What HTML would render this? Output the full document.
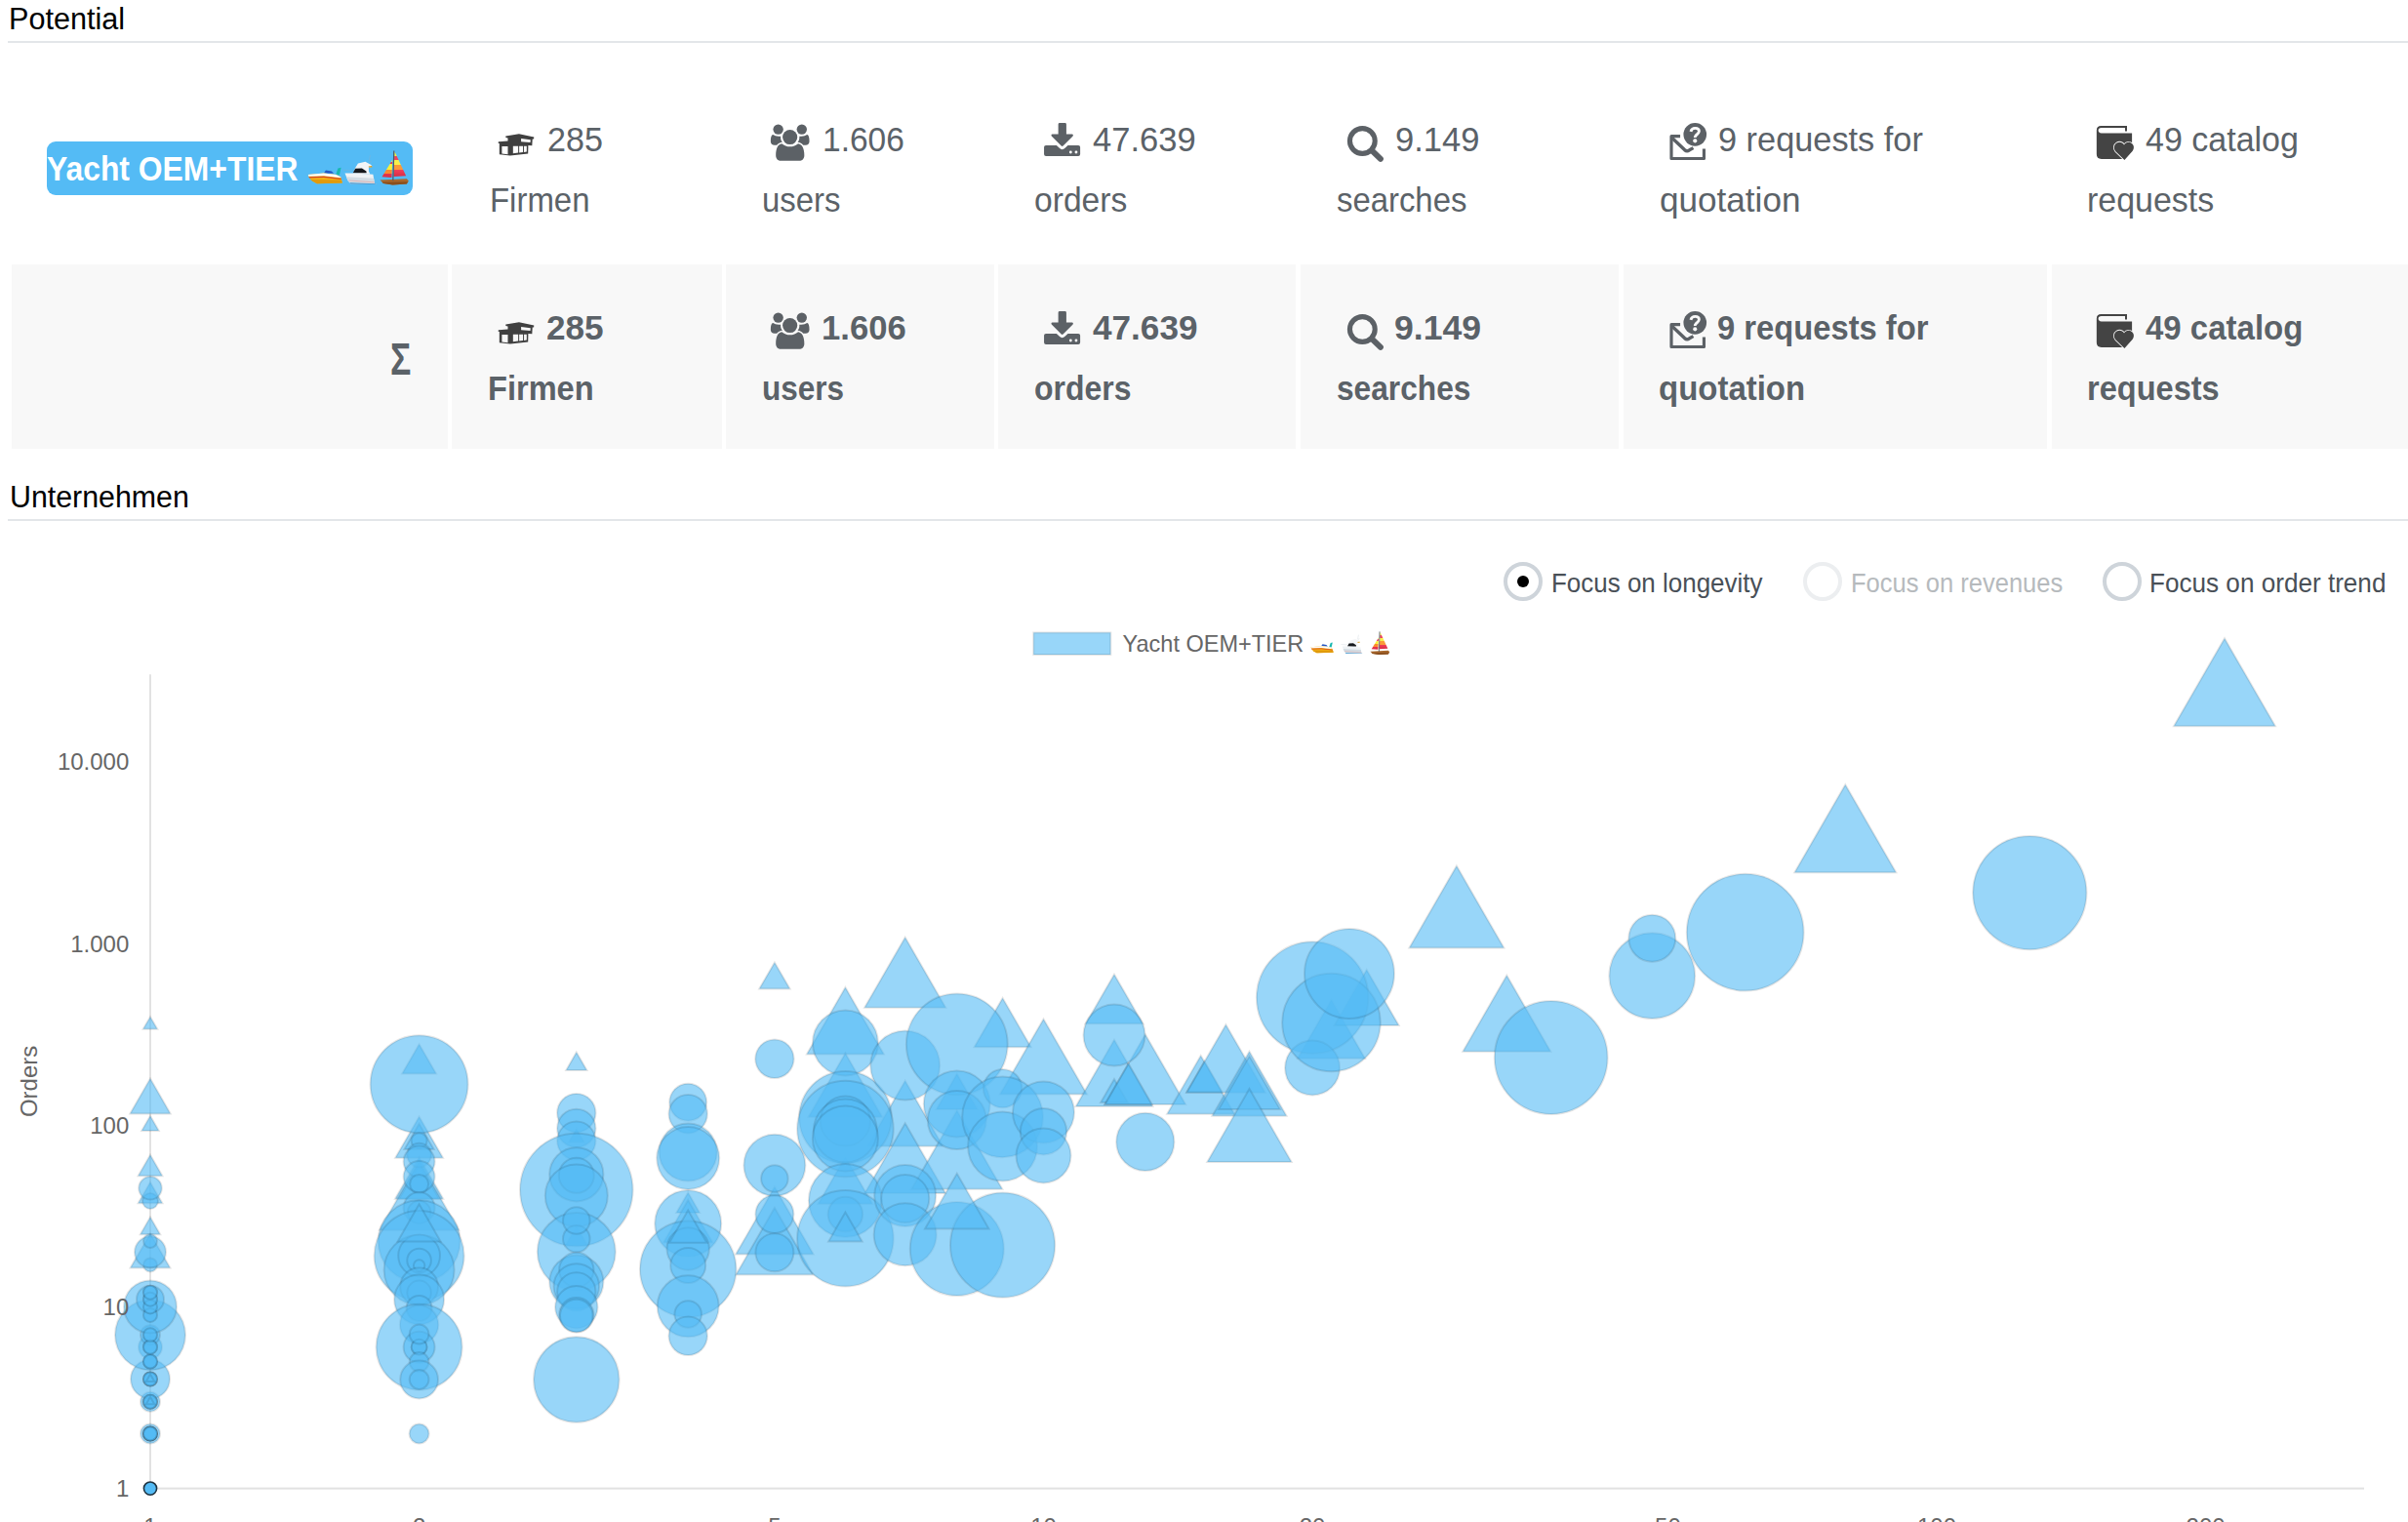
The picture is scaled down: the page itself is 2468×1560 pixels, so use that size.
<!DOCTYPE html>
<html lang="de"><head><meta charset="utf-8"><title>Potential</title>
<style>
html,body{margin:0;padding:0;background:#fff}
body{position:relative;width:2468px;height:1560px;overflow:hidden;font-family:"Liberation Sans",Arial,sans-serif}
.t{position:absolute;white-space:nowrap;line-height:1;transform-origin:0 0;display:block}
.hr{position:absolute;left:8px;right:0;height:2px;background:#e3e6e9}
.gc{position:absolute;top:271px;height:189px;background:#f8f8f8}
.badge{position:absolute;left:48px;top:145px;width:375px;height:55px;border-radius:9px;background:#54bbf5}
.radio{position:absolute;width:32px;height:32px;border:4px solid #ced4da;border-radius:50%;background:#fff}
.radio i{position:absolute;left:10px;top:10px;width:12px;height:12px;border-radius:50%;background:#000}
.ic{position:absolute;overflow:visible}
.chart{position:absolute;left:0;top:0}
</style></head><body>
<svg class="chart" width="2468" height="1560" viewBox="0 0 2468 1560">
<rect x="153" y="691.3" width="2" height="834.3" fill="#e2e2e2"/>
<rect x="153" y="1524.6" width="2270" height="2" fill="#e2e2e2"/>
<g fill="#54bbf5" fill-opacity=".6" stroke="#000" stroke-opacity=".1" stroke-width="2">
<path d="M154.0 1264.3L174.4 1299.5L133.6 1299.5Z"/>
<path d="M154.0 1247.5L164.2 1265.2L143.8 1265.2Z"/>
<path d="M154.0 1211.7L166.4 1233.2L141.6 1233.2Z"/>
<path d="M154.0 1183.7L166.4 1205.2L141.6 1205.2Z"/>
<path d="M154.0 1143.8L162.8 1159.1L145.2 1159.1Z"/>
<path d="M154.0 1105.6L174.7 1141.5L133.3 1141.5Z"/>
<path d="M154.0 1042.2L161.3 1054.8L146.7 1054.8Z"/>
<path d="M429.6 1070.3L447.1 1100.6L412.1 1100.6Z"/>
<path d="M429.6 1144.5L454.0 1186.8L405.2 1186.8Z"/>
<path d="M429.6 1151.7L444.7 1178.0L414.4 1178.0Z"/>
<path d="M429.6 1186.2L454.2 1228.8L405.0 1228.8Z"/>
<path d="M429.6 1193.3L450.1 1228.8L409.1 1228.8Z"/>
<path d="M429.6 1190.3L470.3 1260.8L388.9 1260.8Z"/>
<path d="M590.8 1078.4L601.5 1096.9L580.2 1096.9Z"/>
<path d="M590.8 1157.0L598.6 1170.5L583.0 1170.5Z"/>
<path d="M590.8 1257.0L602.1 1276.5L579.5 1276.5Z"/>
<path d="M705.2 1222.2L717.1 1242.9L693.2 1242.9Z"/>
<path d="M705.2 1230.0L730.3 1273.5L680.1 1273.5Z"/>
<path d="M793.9 986.4L809.6 1013.5L778.2 1013.5Z"/>
<path d="M793.9 1216.6L833.7 1285.6L754.1 1285.6Z"/>
<path d="M793.9 1238.0L833.5 1306.5L754.3 1306.5Z"/>
<path d="M866.4 1012.1L905.9 1080.5L826.9 1080.5Z"/>
<path d="M866.4 1079.4L904.1 1144.7L828.7 1144.7Z"/>
<path d="M866.4 1185.8L894.1 1233.8L838.7 1233.8Z"/>
<path d="M927.7 960.8L969.3 1032.8L886.1 1032.8Z"/>
<path d="M927.7 1107.7L966.4 1174.8L889.0 1174.8Z"/>
<path d="M927.7 1151.2L969.1 1222.9L886.3 1222.9Z"/>
<path d="M980.8 1100.8L1001.7 1137.1L959.8 1137.1Z"/>
<path d="M980.8 1138.3L1027.3 1218.8L934.3 1218.8Z"/>
<path d="M1027.6 1022.9L1056.7 1073.3L998.5 1073.3Z"/>
<path d="M1069.5 1044.4L1114.0 1121.5L1025.0 1121.5Z"/>
<path d="M1142.0 998.7L1171.2 1049.2L1112.8 1049.2Z"/>
<path d="M1142.0 1065.8L1181.3 1133.9L1102.7 1133.9Z"/>
<path d="M1142.0 1106.0L1155.8 1130.0L1128.1 1130.0Z"/>
<path d="M1173.8 1060.2L1215.2 1131.9L1132.4 1131.9Z"/>
<path d="M1156.6 1090.3L1180.7 1132.0L1132.5 1132.0Z"/>
<path d="M1230.7 1082.1L1265.2 1141.8L1196.2 1141.8Z"/>
<path d="M1234.5 1088.1L1252.7 1119.6L1216.3 1119.6Z"/>
<path d="M1256.4 1050.2L1296.6 1119.8L1216.2 1119.8Z"/>
<path d="M1280.5 1077.8L1318.6 1143.8L1242.4 1143.8Z"/>
<path d="M1280.5 1082.4L1312.0 1137.0L1249.0 1137.0Z"/>
<path d="M1280.5 1116.1L1323.7 1191.0L1237.3 1191.0Z"/>
<path d="M1364.5 1025.0L1399.0 1084.7L1330.0 1084.7Z"/>
<path d="M1400.7 993.9L1433.7 1051.0L1367.7 1051.0Z"/>
<path d="M1492.9 887.6L1541.4 971.6L1444.4 971.6Z"/>
<path d="M1544.3 999.7L1589.3 1077.7L1499.3 1077.7Z"/>
<path d="M1891.3 804.3L1943.3 894.3L1839.3 894.3Z"/>
<path d="M2280.0 654.3L2332.0 744.3L2228.0 744.3Z"/>
<circle cx="154.0" cy="1469.5" r="10.0"/>
<circle cx="154.0" cy="1469.5" r="7.0"/>
<circle cx="154.0" cy="1469.5" r="7.0"/>
<circle cx="154.0" cy="1469.5" r="7.0"/>
<circle cx="154.0" cy="1436.8" r="10.0"/>
<circle cx="154.0" cy="1436.8" r="7.0"/>
<circle cx="154.0" cy="1436.8" r="7.0"/>
<circle cx="154.0" cy="1413.5" r="20.0"/>
<circle cx="154.0" cy="1413.5" r="7.0"/>
<circle cx="154.0" cy="1413.5" r="7.0"/>
<circle cx="154.0" cy="1395.5" r="7.0"/>
<circle cx="154.0" cy="1395.5" r="7.0"/>
<circle cx="154.0" cy="1380.7" r="12.0"/>
<circle cx="154.0" cy="1380.7" r="7.0"/>
<circle cx="154.0" cy="1368.2" r="36.0"/>
<circle cx="154.0" cy="1368.2" r="10.0"/>
<circle cx="154.0" cy="1368.2" r="7.0"/>
<circle cx="154.0" cy="1347.9" r="7.0"/>
<circle cx="154.0" cy="1339.4" r="27.0"/>
<circle cx="154.0" cy="1339.4" r="7.0"/>
<circle cx="154.0" cy="1331.7" r="14.0"/>
<circle cx="154.0" cy="1331.7" r="7.0"/>
<circle cx="154.0" cy="1324.7" r="7.0"/>
<circle cx="154.0" cy="1296.5" r="7.0"/>
<circle cx="154.0" cy="1283.3" r="16.0"/>
<circle cx="154.0" cy="1272.0" r="7.0"/>
<circle cx="154.0" cy="1231.0" r="8.0"/>
<circle cx="154.0" cy="1217.8" r="11.8"/>
<circle cx="154.0" cy="1469.5" r="7.0"/>
<circle cx="154.0" cy="1469.5" r="7.0"/>
<circle cx="154.0" cy="1469.5" r="7.0"/>
<circle cx="154.0" cy="1436.8" r="7.0"/>
<circle cx="154.0" cy="1436.8" r="7.0"/>
<circle cx="154.0" cy="1413.5" r="7.0"/>
<circle cx="154.0" cy="1413.5" r="7.0"/>
<circle cx="154.0" cy="1395.5" r="7.0"/>
<circle cx="154.0" cy="1395.5" r="7.0"/>
<circle cx="154.0" cy="1380.7" r="7.0"/>
<circle cx="154.0" cy="1380.7" r="7.0"/>
<circle cx="154.0" cy="1368.2" r="7.0"/>
<circle cx="154.0" cy="1347.9" r="7.0"/>
<circle cx="154.0" cy="1339.4" r="7.0"/>
<circle cx="154.0" cy="1331.7" r="7.0"/>
<circle cx="154.0" cy="1324.7" r="7.0"/>
<circle cx="429.6" cy="1111.2" r="50.0"/>
<circle cx="429.6" cy="1169.2" r="8.0"/>
<circle cx="429.6" cy="1184.0" r="12.3"/>
<circle cx="429.6" cy="1190.5" r="16.0"/>
<circle cx="429.6" cy="1206.0" r="16.0"/>
<circle cx="429.6" cy="1213.5" r="9.5"/>
<circle cx="429.6" cy="1238.0" r="16.0"/>
<circle cx="429.6" cy="1242.5" r="11.7"/>
<circle cx="429.6" cy="1272.3" r="42.0"/>
<circle cx="429.6" cy="1287.0" r="46.0"/>
<circle cx="429.6" cy="1301.8" r="36.0"/>
<circle cx="429.6" cy="1287.0" r="21.4"/>
<circle cx="429.6" cy="1292.0" r="12.3"/>
<circle cx="429.6" cy="1297.0" r="5.7"/>
<circle cx="429.6" cy="1319.0" r="19.4"/>
<circle cx="429.6" cy="1324.8" r="12.3"/>
<circle cx="429.6" cy="1332.0" r="25.5"/>
<circle cx="429.6" cy="1341.0" r="13.0"/>
<circle cx="429.6" cy="1357.7" r="19.7"/>
<circle cx="429.6" cy="1380.7" r="44.0"/>
<circle cx="429.6" cy="1380.7" r="16.0"/>
<circle cx="429.6" cy="1380.7" r="7.9"/>
<circle cx="429.6" cy="1380.7" r="7.9"/>
<circle cx="429.6" cy="1367.5" r="9.9"/>
<circle cx="429.6" cy="1396.0" r="9.9"/>
<circle cx="429.6" cy="1414.0" r="19.4"/>
<circle cx="429.6" cy="1414.0" r="9.9"/>
<circle cx="429.6" cy="1469.5" r="10.0"/>
<circle cx="590.8" cy="1140.7" r="19.7"/>
<circle cx="590.8" cy="1156.4" r="19.7"/>
<circle cx="590.8" cy="1169.3" r="19.7"/>
<circle cx="590.8" cy="1219.5" r="57.8"/>
<circle cx="590.8" cy="1203.8" r="27.6"/>
<circle cx="590.8" cy="1204.7" r="18.0"/>
<circle cx="590.8" cy="1225.4" r="32.0"/>
<circle cx="590.8" cy="1283.0" r="40.0"/>
<circle cx="590.8" cy="1269.8" r="13.8"/>
<circle cx="590.8" cy="1251.0" r="13.8"/>
<circle cx="590.8" cy="1314.0" r="27.6"/>
<circle cx="590.8" cy="1301.5" r="17.7"/>
<circle cx="590.8" cy="1318.5" r="23.3"/>
<circle cx="590.8" cy="1324.0" r="19.7"/>
<circle cx="590.8" cy="1339.7" r="21.7"/>
<circle cx="590.8" cy="1347.6" r="17.7"/>
<circle cx="590.8" cy="1348.6" r="16.8"/>
<circle cx="590.8" cy="1414.0" r="43.8"/>
<circle cx="705.2" cy="1129.8" r="19.0"/>
<circle cx="705.2" cy="1141.7" r="19.7"/>
<circle cx="705.2" cy="1181.0" r="29.6"/>
<circle cx="705.2" cy="1187.0" r="32.0"/>
<circle cx="705.2" cy="1254.0" r="34.0"/>
<circle cx="705.2" cy="1300.8" r="49.3"/>
<circle cx="705.2" cy="1280.0" r="21.7"/>
<circle cx="705.2" cy="1297.0" r="18.0"/>
<circle cx="705.2" cy="1338.8" r="31.5"/>
<circle cx="705.2" cy="1347.0" r="13.8"/>
<circle cx="705.2" cy="1369.3" r="19.7"/>
<circle cx="793.9" cy="1085.3" r="19.7"/>
<circle cx="793.9" cy="1194.3" r="31.5"/>
<circle cx="793.9" cy="1208.0" r="13.8"/>
<circle cx="793.9" cy="1244.5" r="19.5"/>
<circle cx="793.9" cy="1283.8" r="19.5"/>
<circle cx="866.4" cy="1068.9" r="33.5"/>
<circle cx="866.4" cy="1145.2" r="47.3"/>
<circle cx="866.4" cy="1157.0" r="49.3"/>
<circle cx="866.4" cy="1149.0" r="25.6"/>
<circle cx="866.4" cy="1159.0" r="32.5"/>
<circle cx="866.4" cy="1166.9" r="33.5"/>
<circle cx="866.4" cy="1230.5" r="37.5"/>
<circle cx="866.4" cy="1244.5" r="17.7"/>
<circle cx="866.4" cy="1269.3" r="49.3"/>
<circle cx="927.7" cy="1092.0" r="35.5"/>
<circle cx="927.7" cy="1225.5" r="31.5"/>
<circle cx="927.7" cy="1228.5" r="24.6"/>
<circle cx="927.7" cy="1265.3" r="32.0"/>
<circle cx="980.8" cy="1070.3" r="51.9"/>
<circle cx="980.8" cy="1131.4" r="34.0"/>
<circle cx="980.8" cy="1148.0" r="30.0"/>
<circle cx="980.8" cy="1280.0" r="48.0"/>
<circle cx="1027.6" cy="1115.6" r="19.7"/>
<circle cx="1027.6" cy="1144.8" r="41.4"/>
<circle cx="1027.6" cy="1175.0" r="35.5"/>
<circle cx="1027.6" cy="1276.2" r="53.6"/>
<circle cx="1069.5" cy="1140.0" r="31.5"/>
<circle cx="1069.5" cy="1159.7" r="23.7"/>
<circle cx="1069.5" cy="1184.5" r="28.0"/>
<circle cx="1142.0" cy="1061.0" r="31.5"/>
<circle cx="1173.8" cy="1170.4" r="29.6"/>
<circle cx="1345.1" cy="1022.5" r="57.2"/>
<circle cx="1345.1" cy="1094.5" r="28.0"/>
<circle cx="1364.5" cy="1048.0" r="50.3"/>
<circle cx="1383.0" cy="997.9" r="46.0"/>
<circle cx="1589.7" cy="1084.0" r="57.9"/>
<circle cx="1693.3" cy="1000.2" r="43.9"/>
<circle cx="1693.3" cy="961.7" r="24.0"/>
<circle cx="1788.7" cy="955.7" r="59.9"/>
<circle cx="2080.3" cy="915.1" r="58.2"/>
<path d="M154.0 1431.8L158.3 1439.3L149.7 1439.3Z"/>
<path d="M154.0 1408.5L158.3 1416.0L149.7 1416.0Z"/>
<path d="M429.6 1234.3L451.6 1272.4L407.6 1272.4Z"/>
<path d="M705.2 1240.4L724.4 1273.7L686.0 1273.7Z"/>
<path d="M866.4 1242.6L883.7 1272.6L849.1 1272.6Z"/>
<path d="M980.8 1202.8L1013.5 1259.5L948.0 1259.5Z"/>
</g>
<circle cx="154" cy="1525.6" r="6.6" fill="#54bbf5" stroke="#1f3442" stroke-width="1.6"/>
<rect x="1059.3" y="648.4" width="79" height="22.6" fill="#54bbf5" fill-opacity=".6" stroke="#000" stroke-opacity=".1" stroke-width="2"/>
<g font-family="Liberation Sans, Arial, sans-serif" font-size="24" fill="#666">
<text x="1150.6" y="667.9" textLength="185.6" lengthAdjust="spacingAndGlyphs">Yacht OEM+TIER</text>
<text x="132.3" y="789.4" text-anchor="end">10.000</text>
<text x="132.3" y="975.6" text-anchor="end">1.000</text>
<text x="132.3" y="1161.8" text-anchor="end">100</text>
<text x="132.3" y="1348.0" text-anchor="end">10</text>
<text x="132.3" y="1534.2" text-anchor="end">1</text>
<text x="154.0" y="1573.2" text-anchor="middle">1</text>
<text x="429.6" y="1573.2" text-anchor="middle">2</text>
<text x="793.9" y="1573.2" text-anchor="middle">5</text>
<text x="1069.5" y="1573.2" text-anchor="middle">10</text>
<text x="1345.1" y="1573.2" text-anchor="middle">20</text>
<text x="1709.4" y="1573.2" text-anchor="middle">50</text>
<text x="1985.0" y="1573.2" text-anchor="middle">100</text>
<text x="2260.6" y="1573.2" text-anchor="middle">200</text>
<text transform="translate(38 1108.4) rotate(-90)" text-anchor="middle">Orders</text>
</g></svg>
<span class="t" style="left:9.30px;top:4.46px;font-size:31px;color:#000;transform:scaleX(0.9868);">Potential</span>
<div class="hr" style="top:41.6px"></div>
<span class="t" style="left:9.60px;top:493.56px;font-size:31px;color:#000;transform:scaleX(0.9789);">Unternehmen</span>
<div class="hr" style="top:531.8px"></div>
<div class="gc" style="left:12px;width:447.0px"></div>
<div class="gc" style="left:463px;width:276.7px"></div>
<div class="gc" style="left:744.2px;width:274.8px"></div>
<div class="gc" style="left:1023.3px;width:305.2px"></div>
<div class="gc" style="left:1333.2px;width:326.2px"></div>
<div class="gc" style="left:1664.3px;width:433.4px"></div>
<div class="gc" style="left:2102.6px;width:365.4px"></div>
<div class="badge"></div>
<span class="t" style="left:48.20px;top:156.34px;font-size:34.8px;font-weight:700;color:#fff;transform:scaleX(0.9152);">Yacht OEM+TIER</span>
<span class="t" style="left:561.00px;top:124.90px;font-size:35.2px;color:#5b6268;transform:scaleX(0.9697);">285</span>
<span class="t" style="left:501.50px;top:187.10px;font-size:35.2px;color:#5b6268;transform:scaleX(0.9363);">Firmen</span>
<span class="t" style="left:843.00px;top:124.90px;font-size:35.2px;color:#5b6268;transform:scaleX(0.9526);">1.606</span>
<span class="t" style="left:781.40px;top:187.10px;font-size:35.2px;color:#5b6268;transform:scaleX(0.9342);">users</span>
<span class="t" style="left:1120.00px;top:124.90px;font-size:35.2px;color:#5b6268;transform:scaleX(0.9822);">47.639</span>
<span class="t" style="left:1059.70px;top:187.10px;font-size:35.2px;color:#5b6268;transform:scaleX(0.9550);">orders</span>
<span class="t" style="left:1430.00px;top:124.90px;font-size:35.2px;color:#5b6268;transform:scaleX(0.9810);">9.149</span>
<span class="t" style="left:1370.00px;top:187.10px;font-size:35.2px;color:#5b6268;transform:scaleX(0.9341);">searches</span>
<span class="t" style="left:1760.70px;top:124.90px;font-size:35.2px;color:#5b6268;transform:scaleX(0.9752);">9 requests for</span>
<span class="t" style="left:1700.50px;top:187.10px;font-size:35.2px;color:#5b6268;transform:scaleX(0.9976);">quotation</span>
<span class="t" style="left:2199.00px;top:124.90px;font-size:35.2px;color:#5b6268;transform:scaleX(0.9665);">49 catalog</span>
<span class="t" style="left:2139.40px;top:187.10px;font-size:35.2px;color:#5b6268;transform:scaleX(0.9645);">requests</span>
<span class="t" style="left:560.00px;top:318.20px;font-size:35.2px;font-weight:700;color:#5b6268;transform:scaleX(0.9986);">285</span>
<span class="t" style="left:499.70px;top:379.70px;font-size:35.2px;font-weight:700;color:#5b6268;transform:scaleX(0.9260);">Firmen</span>
<span class="t" style="left:842.00px;top:318.20px;font-size:35.2px;font-weight:700;color:#5b6268;transform:scaleX(0.9844);">1.606</span>
<span class="t" style="left:780.80px;top:379.70px;font-size:35.2px;font-weight:700;color:#5b6268;transform:scaleX(0.8959);">users</span>
<span class="t" style="left:1120.00px;top:318.20px;font-size:35.2px;font-weight:700;color:#5b6268;transform:scaleX(0.9990);">47.639</span>
<span class="t" style="left:1059.90px;top:379.70px;font-size:35.2px;font-weight:700;color:#5b6268;transform:scaleX(0.9080);">orders</span>
<span class="t" style="left:1429.30px;top:318.20px;font-size:35.2px;font-weight:700;color:#5b6268;transform:scaleX(1.0116);">9.149</span>
<span class="t" style="left:1369.80px;top:379.70px;font-size:35.2px;font-weight:700;color:#5b6268;transform:scaleX(0.9004);">searches</span>
<span class="t" style="left:1760.40px;top:318.20px;font-size:35.2px;font-weight:700;color:#5b6268;transform:scaleX(0.9302);">9 requests for</span>
<span class="t" style="left:1700.40px;top:379.70px;font-size:35.2px;font-weight:700;color:#5b6268;transform:scaleX(0.9368);">quotation</span>
<span class="t" style="left:2198.60px;top:318.20px;font-size:35.2px;font-weight:700;color:#5b6268;transform:scaleX(0.9377);">49 catalog</span>
<span class="t" style="left:2138.70px;top:379.70px;font-size:35.2px;font-weight:700;color:#5b6268;transform:scaleX(0.9252);">requests</span>
<span class="t" style="left:399.70px;top:344.96px;font-size:46px;font-weight:700;color:#5b6268;transform:scaleX(0.7717);">Σ</span>
<div class="radio" style="left:1541px;top:576px;border-color:#ced4da"><i></i></div>
<div class="radio" style="left:1848.3px;top:576px;border-color:#eceef0"></div>
<div class="radio" style="left:2155px;top:576px;border-color:#ced4da"></div>
<span class="t" style="left:1590.00px;top:583.67px;font-size:27.8px;color:#495057;transform:scaleX(0.9342);">Focus on longevity</span>
<span class="t" style="left:1896.70px;top:583.67px;font-size:27.8px;color:#b6babd;transform:scaleX(0.9191);">Focus on revenues</span>
<span class="t" style="left:2202.70px;top:583.67px;font-size:27.8px;color:#495057;transform:scaleX(0.9395);">Focus on order trend</span>
<svg class="ic" style="left:500px;top:115px" width="60" height="60" viewBox="0 0 1522 1522"><path fill="#404040" d="M465 620L810 565L1200 650L1195 700L1160 695L1150 870L1050 865L1045 1075L580 1130L300 1100L300 810L270 805L275 770L520 750L520 670L465 660Z"/>
<path fill="#fff" d="M365 885L520 885L520 1095L365 1080ZM655 880L790 880L790 1055L655 1070ZM815 880L915 880L915 1040L815 1055ZM940 880L1010 880L1010 1030L940 1040ZM865 685L1110 715L1105 785L865 765Z"/></svg>
<svg class="ic" style="left:780px;top:115px" width="60" height="60" viewBox="0 0 1522 1522"><circle cx="447" cy="447" r="132" fill="#5c6166"/><circle cx="1060" cy="447" r="132" fill="#5c6166"/>
<path fill="#5c6166" d="M250 760C250 650 270 590 310 585C350 610 420 640 510 625C505 690 520 740 555 780C490 785 450 810 410 855L350 855C290 855 250 820 250 760Z"/><path fill="#5c6166" transform="translate(1507 0) scale(-1 1)" d="M250 760C250 650 270 590 310 585C350 610 420 640 510 625C505 690 520 740 555 780C490 785 450 810 410 855L350 855C290 855 250 820 250 760Z"/>
<circle cx="752" cy="648" r="192" fill="#5c6166"/>
<path fill="#5c6166" d="M385 1120C385 950 430 830 540 815C600 860 670 895 752 895C835 895 905 860 965 815C1075 830 1125 950 1125 1120C1125 1210 1070 1262 990 1262L520 1262C440 1262 385 1210 385 1120Z"/></svg>
<svg class="ic" style="left:1060px;top:115px" width="60" height="60" viewBox="0 0 1522 1522"><path fill="#5c6166" d="M660 280L800 280Q835 280 835 315L835 570L985 570Q1030 575 1005 620L750 878Q727 900 704 878L450 620Q425 575 470 570L625 570L625 315Q625 280 660 280Z"/>
<path fill="#5c6166" d="M305 860L580 860L655 935Q727 1000 800 935L875 860L1145 860Q1195 860 1195 910L1195 1090Q1195 1140 1145 1140L305 1140Q255 1140 255 1090L255 910Q255 860 305 860Z"/>
<circle cx="947" cy="1040" r="36" fill="#fff"/><circle cx="1090" cy="1040" r="36" fill="#fff"/></svg>
<svg class="ic" style="left:1370px;top:115px" width="60" height="60" viewBox="0 0 1522 1522"><circle cx="668" cy="748" r="327" fill="none" stroke="#5c6166" stroke-width="130"/>
<path d="M930 1010L1140 1215" stroke="#5c6166" stroke-width="150" stroke-linecap="round"/></svg>
<svg class="ic" style="left:1700px;top:115px" width="60" height="60" viewBox="0 0 1522 1522"><path d="M560 625L330 625L330 1205L1178 1205L1178 950" fill="none" stroke="#5c6166" stroke-width="80" stroke-linejoin="round"/>
<path d="M345 665L680 985Q735 1030 800 985L900 928" fill="none" stroke="#5c6166" stroke-width="85" stroke-linejoin="round"/>
<circle cx="945" cy="580" r="300" fill="#5c6166"/>
<path d="M835 505C850 440 900 415 950 415C1020 415 1055 455 1050 500C1045 545 1000 570 970 600C950 620 945 635 945 660" fill="none" stroke="#fff" stroke-width="72"/>
<circle cx="945" cy="745" r="52" fill="#fff"/></svg>
<svg class="ic" style="left:2138px;top:115px" width="60" height="60" viewBox="0 0 1522 1522"><path fill="#444" d="M390 355L1065 355L1065 495L1015 495L1015 405L400 405Q320 410 320 470Q320 540 400 545L1195 545L1195 1215L400 1215Q275 1215 275 1090L275 470Q275 355 390 355Z"/>
<path fill="#fff" d="M985 1270L1250 975L1250 1270Z"/>
<path fill="#444" stroke="#fff" stroke-width="44" paint-order="stroke" d="M990 850C950 780 870 760 800 800C720 850 710 950 770 1020L1000 1245L1210 1010C1270 930 1240 830 1160 795C1090 765 1030 790 990 850Z"/></svg>
<svg class="ic" style="left:500px;top:308px" width="60" height="60" viewBox="0 0 1522 1522"><path fill="#404040" d="M465 620L810 565L1200 650L1195 700L1160 695L1150 870L1050 865L1045 1075L580 1130L300 1100L300 810L270 805L275 770L520 750L520 670L465 660Z"/>
<path fill="#f8f8f8" d="M365 885L520 885L520 1095L365 1080ZM655 880L790 880L790 1055L655 1070ZM815 880L915 880L915 1040L815 1055ZM940 880L1010 880L1010 1030L940 1040ZM865 685L1110 715L1105 785L865 765Z"/></svg>
<svg class="ic" style="left:780px;top:308px" width="60" height="60" viewBox="0 0 1522 1522"><circle cx="447" cy="447" r="132" fill="#5c6166"/><circle cx="1060" cy="447" r="132" fill="#5c6166"/>
<path fill="#5c6166" d="M250 760C250 650 270 590 310 585C350 610 420 640 510 625C505 690 520 740 555 780C490 785 450 810 410 855L350 855C290 855 250 820 250 760Z"/><path fill="#5c6166" transform="translate(1507 0) scale(-1 1)" d="M250 760C250 650 270 590 310 585C350 610 420 640 510 625C505 690 520 740 555 780C490 785 450 810 410 855L350 855C290 855 250 820 250 760Z"/>
<circle cx="752" cy="648" r="192" fill="#5c6166"/>
<path fill="#5c6166" d="M385 1120C385 950 430 830 540 815C600 860 670 895 752 895C835 895 905 860 965 815C1075 830 1125 950 1125 1120C1125 1210 1070 1262 990 1262L520 1262C440 1262 385 1210 385 1120Z"/></svg>
<svg class="ic" style="left:1060px;top:308px" width="60" height="60" viewBox="0 0 1522 1522"><path fill="#5c6166" d="M660 280L800 280Q835 280 835 315L835 570L985 570Q1030 575 1005 620L750 878Q727 900 704 878L450 620Q425 575 470 570L625 570L625 315Q625 280 660 280Z"/>
<path fill="#5c6166" d="M305 860L580 860L655 935Q727 1000 800 935L875 860L1145 860Q1195 860 1195 910L1195 1090Q1195 1140 1145 1140L305 1140Q255 1140 255 1090L255 910Q255 860 305 860Z"/>
<circle cx="947" cy="1040" r="36" fill="#f8f8f8"/><circle cx="1090" cy="1040" r="36" fill="#f8f8f8"/></svg>
<svg class="ic" style="left:1370px;top:308px" width="60" height="60" viewBox="0 0 1522 1522"><circle cx="668" cy="748" r="327" fill="none" stroke="#5c6166" stroke-width="130"/>
<path d="M930 1010L1140 1215" stroke="#5c6166" stroke-width="150" stroke-linecap="round"/></svg>
<svg class="ic" style="left:1700px;top:308px" width="60" height="60" viewBox="0 0 1522 1522"><path d="M560 625L330 625L330 1205L1178 1205L1178 950" fill="none" stroke="#5c6166" stroke-width="80" stroke-linejoin="round"/>
<path d="M345 665L680 985Q735 1030 800 985L900 928" fill="none" stroke="#5c6166" stroke-width="85" stroke-linejoin="round"/>
<circle cx="945" cy="580" r="300" fill="#5c6166"/>
<path d="M835 505C850 440 900 415 950 415C1020 415 1055 455 1050 500C1045 545 1000 570 970 600C950 620 945 635 945 660" fill="none" stroke="#f8f8f8" stroke-width="72"/>
<circle cx="945" cy="745" r="52" fill="#f8f8f8"/></svg>
<svg class="ic" style="left:2138px;top:308px" width="60" height="60" viewBox="0 0 1522 1522"><path fill="#444" d="M390 355L1065 355L1065 495L1015 495L1015 405L400 405Q320 410 320 470Q320 540 400 545L1195 545L1195 1215L400 1215Q275 1215 275 1090L275 470Q275 355 390 355Z"/>
<path fill="#f8f8f8" d="M985 1270L1250 975L1250 1270Z"/>
<path fill="#444" stroke="#f8f8f8" stroke-width="44" paint-order="stroke" d="M990 850C950 780 870 760 800 800C720 850 710 950 770 1020L1000 1245L1210 1010C1270 930 1240 830 1160 795C1090 765 1030 790 990 850Z"/></svg>
<svg class="ic" style="left:315.0px;top:171.4px" width="36.4" height="17.9" viewBox="200 530 730 360"><path fill="#19b8b0" d="M790 685L830 560L895 545L860 700Z"/>
<path fill="#2457c5" d="M540 660L580 600L700 620L745 668Z"/>
<path fill="#f5b313" d="M215 690L540 660L790 690L890 740L920 860L400 875L300 820L230 740Z"/>
<path fill="#e09a0c" d="M262 790L905 800L920 860L400 875L300 820Z"/>
<path fill="#fff" d="M215 690L540 660L790 690L890 740L890 755L540 715L225 725Z"/>
<path fill="#d6482a" d="M228 738L540 725L892 765L898 790L540 750L240 760Z"/></svg>
<svg class="ic" style="left:351.3px;top:157.5px" width="35.4" height="31.9" viewBox="930 250 710 640"><path stroke="#9ab" stroke-width="6" d="M1500 270L1470 420M1520 380L1500 430M945 575L1150 590"/>
<path fill="#f3f5f7" d="M1145 640L1200 520L1250 440L1400 405L1520 470L1540 510L1470 520L1470 600L1500 665Z"/>
<path fill="#d79a1c" d="M1465 500L1540 490L1535 520L1470 522Z"/>
<path fill="#15181c" d="M1145 635L1195 545L1330 540L1420 600L1425 635Z"/>
<path fill="#eef2f5" d="M980 640L1150 640L1560 665L1590 850L1630 872L1100 862L1040 790Z"/>
<path fill="#d3dce3" d="M1010 715L1575 745L1590 850L1630 872L1100 862L1040 790Z"/>
<path stroke="#e8837f" stroke-width="9" fill="none" d="M1060 790L1590 830"/>
<path fill="#2f8fd0" d="M1075 835L1600 858L1630 872L1100 862Z"/></svg>
<svg class="ic" style="left:388.7px;top:153.7px" width="30.4" height="36.1" viewBox="1680 175 610 725"><defs><linearGradient id="g1a" x1="0" y1="200" x2="0" y2="715" gradientUnits="userSpaceOnUse">
<stop offset="0" stop-color="#f7ee3c"/><stop offset=".2" stop-color="#f7ee3c"/><stop offset=".2" stop-color="#f0455a"/><stop offset=".36" stop-color="#f0455a"/>
<stop offset=".36" stop-color="#f7f04a"/><stop offset=".54" stop-color="#f7f04a"/><stop offset=".54" stop-color="#fb9a3a"/><stop offset=".74" stop-color="#fb9a3a"/>
<stop offset=".74" stop-color="#f2405a"/><stop offset="1" stop-color="#d92c45"/></linearGradient>
<linearGradient id="g2a" x1="0" y1="370" x2="0" y2="735" gradientUnits="userSpaceOnUse">
<stop offset="0" stop-color="#f7ee3c"/><stop offset=".12" stop-color="#f7ee3c"/><stop offset=".12" stop-color="#e83a55"/><stop offset=".25" stop-color="#e83a55"/>
<stop offset=".25" stop-color="#f8ef3c"/><stop offset=".56" stop-color="#f8ef3c"/><stop offset=".56" stop-color="#fb8a2e"/><stop offset=".8" stop-color="#fb8a2e"/>
<stop offset=".8" stop-color="#e8354d"/><stop offset="1" stop-color="#d92c45"/></linearGradient></defs>
<path fill="url(#g2a)" d="M1945 370L1730 720L1930 735Z"/>
<path fill="url(#g1a)" d="M1990 200L2225 700L1970 715Z"/>
<path fill="#a8672c" d="M1690 790L2240 765L2280 810L2240 870L1950 890L1760 860Z"/>
<path fill="#8a4f1e" d="M1725 835L2262 825L2240 870L1950 890L1760 860Z"/>
<path stroke="#4d5862" stroke-width="24" d="M1977 185L1957 800"/></svg>
<svg class="ic" style="left:1343.2px;top:658.4px" width="24.0" height="11.8" viewBox="200 530 730 360"><path fill="#19b8b0" d="M790 685L830 560L895 545L860 700Z"/>
<path fill="#2457c5" d="M540 660L580 600L700 620L745 668Z"/>
<path fill="#f5b313" d="M215 690L540 660L790 690L890 740L920 860L400 875L300 820L230 740Z"/>
<path fill="#e09a0c" d="M262 790L905 800L920 860L400 875L300 820Z"/>
<path fill="#fff" d="M215 690L540 660L790 690L890 740L890 755L540 715L225 725Z"/>
<path fill="#d6482a" d="M228 738L540 725L892 765L898 790L540 750L240 760Z"/></svg>
<svg class="ic" style="left:1373.6px;top:649.8px" width="23.0" height="20.7" viewBox="930 250 710 640"><path stroke="#9ab" stroke-width="6" d="M1500 270L1470 420M1520 380L1500 430M945 575L1150 590"/>
<path fill="#f3f5f7" d="M1145 640L1200 520L1250 440L1400 405L1520 470L1540 510L1470 520L1470 600L1500 665Z"/>
<path fill="#d79a1c" d="M1465 500L1540 490L1535 520L1470 522Z"/>
<path fill="#15181c" d="M1145 635L1195 545L1330 540L1420 600L1425 635Z"/>
<path fill="#eef2f5" d="M980 640L1150 640L1560 665L1590 850L1630 872L1100 862L1040 790Z"/>
<path fill="#d3dce3" d="M1010 715L1575 745L1590 850L1630 872L1100 862L1040 790Z"/>
<path stroke="#e8837f" stroke-width="9" fill="none" d="M1060 790L1590 830"/>
<path fill="#2f8fd0" d="M1075 835L1600 858L1630 872L1100 862Z"/></svg>
<svg class="ic" style="left:1403.8px;top:646.7px" width="20.6" height="24.4" viewBox="1680 175 610 725"><defs><linearGradient id="g1b" x1="0" y1="200" x2="0" y2="715" gradientUnits="userSpaceOnUse">
<stop offset="0" stop-color="#f7ee3c"/><stop offset=".2" stop-color="#f7ee3c"/><stop offset=".2" stop-color="#f0455a"/><stop offset=".36" stop-color="#f0455a"/>
<stop offset=".36" stop-color="#f7f04a"/><stop offset=".54" stop-color="#f7f04a"/><stop offset=".54" stop-color="#fb9a3a"/><stop offset=".74" stop-color="#fb9a3a"/>
<stop offset=".74" stop-color="#f2405a"/><stop offset="1" stop-color="#d92c45"/></linearGradient>
<linearGradient id="g2b" x1="0" y1="370" x2="0" y2="735" gradientUnits="userSpaceOnUse">
<stop offset="0" stop-color="#f7ee3c"/><stop offset=".12" stop-color="#f7ee3c"/><stop offset=".12" stop-color="#e83a55"/><stop offset=".25" stop-color="#e83a55"/>
<stop offset=".25" stop-color="#f8ef3c"/><stop offset=".56" stop-color="#f8ef3c"/><stop offset=".56" stop-color="#fb8a2e"/><stop offset=".8" stop-color="#fb8a2e"/>
<stop offset=".8" stop-color="#e8354d"/><stop offset="1" stop-color="#d92c45"/></linearGradient></defs>
<path fill="url(#g2b)" d="M1945 370L1730 720L1930 735Z"/>
<path fill="url(#g1b)" d="M1990 200L2225 700L1970 715Z"/>
<path fill="#a8672c" d="M1690 790L2240 765L2280 810L2240 870L1950 890L1760 860Z"/>
<path fill="#8a4f1e" d="M1725 835L2262 825L2240 870L1950 890L1760 860Z"/>
<path stroke="#4d5862" stroke-width="24" d="M1977 185L1957 800"/></svg>
</body></html>
